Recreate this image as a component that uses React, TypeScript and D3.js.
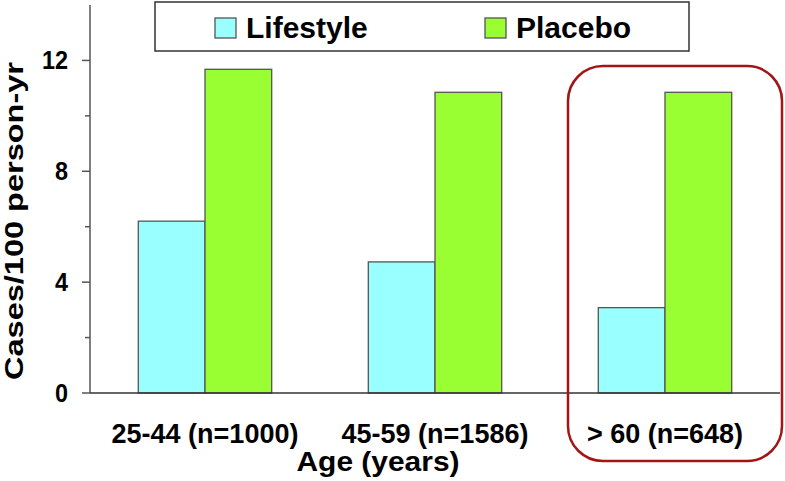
import React, { useEffect, useRef } from 'react';
import * as d3 from 'd3';

const ageGroups = ['25-44 (n=1000)', '45-59 (n=1586)', '> 60 (n=648)'];
const seriesNames = ['Lifestyle', 'Placebo'];
const lifestyle = [6.2, 4.73, 3.08];
const placebo = [11.68, 10.85, 10.85];
const majorTicks = [0, 4, 8, 12];
const minorTicks = [2, 6, 10];

const colors = ['#99ffff', '#99ff33'];
const font = '"Liberation Sans", Arial, sans-serif';

const App = () => {
    const svgRef = useRef<SVGSVGElement>(null);

    useEffect(() => {
        const width = 785;
        const height = 481;

        const svg = d3.select(svgRef.current)
            .attr('width', width)
            .attr('height', height);
        svg.selectAll('*').remove();

        const left = 90;
        const right = 780;
        const bottom = 393;

        const x0 = d3.scaleBand()
            .domain(ageGroups)
            .range([left, right])
            .paddingInner(0.42)
            .paddingOuter(0.21);

        const x1 = d3.scaleBand()
            .domain(seriesNames)
            .range([0, x0.bandwidth()]);

        const y = d3.scaleLinear()
            .domain([0, 14])
            .range([bottom, 5]);

        const rows = ageGroups.map((g, i) => ({ group: g, values: [lifestyle[i], placebo[i]] }));

        // bars
        svg.append('g')
            .selectAll('g')
            .data(rows)
            .enter()
            .append('g')
            .attr('transform', d => `translate(${x0(d.group)},0)`)
            .selectAll('rect')
            .data(d => d.values.map((v, k) => ({ key: seriesNames[k], v, k })))
            .enter()
            .append('rect')
            .attr('x', d => x1(d.key)!)
            .attr('y', d => y(d.v))
            .attr('width', x1.bandwidth())
            .attr('height', d => y(0) - y(d.v))
            .attr('fill', d => colors[d.k])
            .attr('stroke', '#555')
            .attr('stroke-width', 1.3);

        // y axis
        svg.append('line')
            .attr('x1', left).attr('x2', left)
            .attr('y1', y(14)).attr('y2', y(0))
            .attr('stroke', '#555').attr('stroke-width', 1.5);

        svg.append('g')
            .selectAll('line')
            .data(majorTicks)
            .enter()
            .append('line')
            .attr('x1', left - 8).attr('x2', left)
            .attr('y1', d => y(d)).attr('y2', d => y(d))
            .attr('stroke', '#555').attr('stroke-width', 1.5);

        svg.append('g')
            .selectAll('line')
            .data(minorTicks)
            .enter()
            .append('line')
            .attr('x1', left - 5).attr('x2', left)
            .attr('y1', d => y(d)).attr('y2', d => y(d))
            .attr('stroke', '#555').attr('stroke-width', 1.5);

        svg.append('g')
            .selectAll('text')
            .data(majorTicks)
            .enter()
            .append('text')
            .attr('transform', d => `translate(68,${y(d) + 9}) scale(0.9,1)`)
            .attr('text-anchor', 'end')
            .attr('font-family', font)
            .attr('font-weight', 'bold')
            .attr('font-size', 26)
            .text(d => d);

        // x axis
        svg.append('line')
            .attr('x1', left).attr('x2', right)
            .attr('y1', bottom).attr('y2', bottom)
            .attr('stroke', '#333').attr('stroke-width', 1.5);

        svg.append('g')
            .selectAll('text')
            .data(ageGroups)
            .enter()
            .append('text')
            .attr('x', d => x0(d)! + x0.bandwidth() / 2)
            .attr('y', 443)
            .attr('text-anchor', 'middle')
            .attr('font-family', font)
            .attr('font-weight', 'bold')
            .attr('font-size', 27)
            .text(d => d);

        svg.append('text')
            .attr('x', 378)
            .attr('y', 471)
            .attr('text-anchor', 'middle')
            .attr('font-family', font)
            .attr('font-weight', 'bold')
            .attr('font-size', 28)
            .attr('textLength', 163)
            .attr('lengthAdjust', 'spacingAndGlyphs')
            .text('Age (years)');

        svg.append('text')
            .attr('transform', 'translate(23,221) rotate(-90)')
            .attr('text-anchor', 'middle')
            .attr('font-family', font)
            .attr('font-weight', 'bold')
            .attr('font-size', 26)
            .attr('textLength', 318)
            .attr('lengthAdjust', 'spacingAndGlyphs')
            .text('Cases/100 person-yr');

        // legend
        const legend = svg.append('g');
        legend.append('rect')
            .attr('x', 155).attr('y', 2)
            .attr('width', 534).attr('height', 49)
            .attr('fill', 'white')
            .attr('stroke', '#333').attr('stroke-width', 1.5);

        const legendX = [215, 485];
        seriesNames.forEach((name, i) => {
            legend.append('rect')
                .attr('x', legendX[i]).attr('y', 18)
                .attr('width', 21).attr('height', 20)
                .attr('fill', colors[i])
                .attr('stroke', '#555').attr('stroke-width', 1.3);
            legend.append('text')
                .attr('x', legendX[i] + 31)
                .attr('y', 38)
                .attr('font-family', font)
                .attr('font-weight', 'bold')
                .attr('font-size', 30)
                .text(name);
        });

        // highlight box round the oldest group
        svg.append('rect')
            .attr('x', 568).attr('y', 66)
            .attr('width', 214).attr('height', 395)
            .attr('rx', 35).attr('ry', 35)
            .attr('fill', 'none')
            .attr('stroke', '#a31515')
            .attr('stroke-width', 2.5);
    }, []);

    return (
        <svg ref={svgRef} style={{ position: 'absolute', left: 0, top: 0, background: 'white' }}></svg>
    );
};

export default App;
